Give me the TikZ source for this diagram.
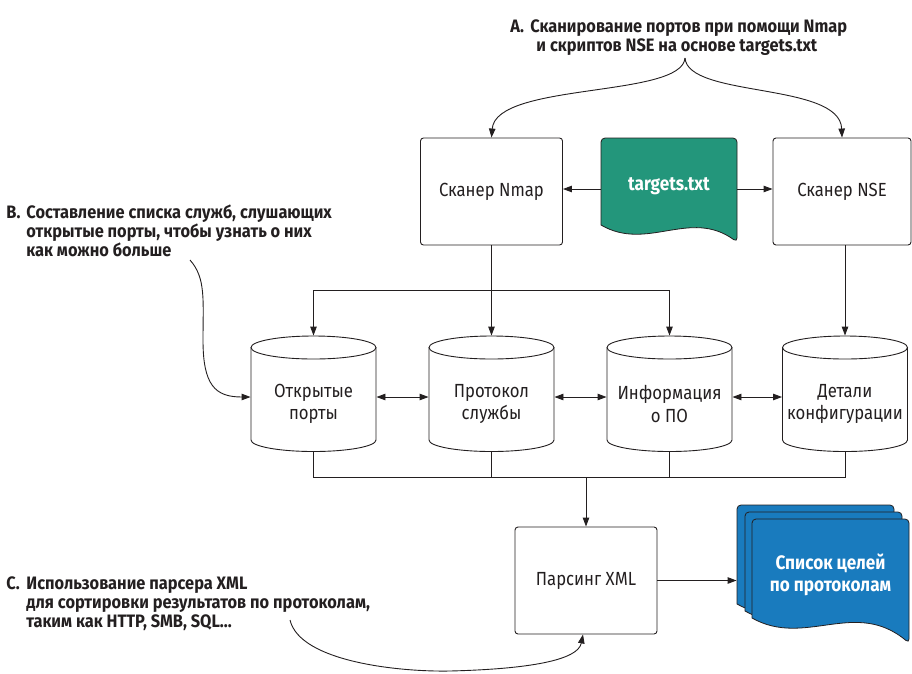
\documentclass[tikz,border=0pt]{standalone}
\usepackage{fontspec}
\setmainfont{Fira Sans}[FakeStretch=0.88]
\newfontfamily\annfont{Fira Sans}[FakeStretch=0.91]
\usetikzlibrary{arrows.meta}
\definecolor{teal1}{RGB}{35,150,123}
\definecolor{blue1}{RGB}{25,123,190}
\definecolor{ink}{RGB}{35,31,32}
\begin{document}
\begin{tikzpicture}[x=1pt,y=-1pt,line width=0.9pt,color=ink,
  tip/.tip={Triangle[length=9pt,width=6.5pt]},
  arr/.style={-tip},
  darr/.style={tip-tip},
  box/.style={draw=ink,rounded corners=3pt,minimum width=142pt,minimum height=107pt,inner sep=0pt,font=\fontsize{19}{21}\selectfont},
  cylnode/.style={minimum width=125pt,minimum height=115.5pt,inner sep=0pt},
  cyltext/.style={align=center,inner sep=0pt,font=\fontsize{19}{22.5}\selectfont},
  ann/.style={anchor=base west,inner sep=0pt,font=\annfont\bfseries\fontsize{18}{19}\selectfont},
  docnode/.style={inner sep=0pt,align=center,text=white,font=\bfseries\fontsize{19.5}{22}\selectfont},
  listtext/.style={docnode,font=\bfseries\fontsize{19.5}{22.5}\selectfont},
  docshape/.style={draw=ink,line width=0.8pt}
]
\useasboundingbox (0,0) rectangle (912,673);

% ---------- boxes ----------
\node[box] (nmap) at (491.5,191.5) {Сканер Nmap};
\node[box,minimum width=138pt] (nse) at (842,191.5) {Сканер NSE};
\node[box] (parse) at (586,580.5) {Парсинг XML};

% ---------- targets.txt document ----------
\draw[docshape,fill=teal1] (601,225) [rounded corners=4pt] -- (601,138) -- (737,138) -- (737,242) [sharp corners]
  .. controls (690,208) and (647,252) .. (601,225) -- cycle;
\node[docnode,minimum width=136pt,minimum height=102pt] (tg) at (669,189) {};
\node[docnode] (tgt) at (669,186) {targets.txt};

% ---------- stacked documents ----------
\foreach \L/\T in {737/505,745/512,752/519}{
  \draw[docshape,fill=blue1] (\L,\T+99) [rounded corners=4pt] -- (\L,\T) -- (\L+157,\T) -- (\L+157,\T+124) [sharp corners]
    .. controls (\L+103,\T+79) and (\L+53,\T+129) .. (\L,\T+99) -- cycle;
}
\node[minimum width=156pt,minimum height=99pt,inner sep=0pt] (docb) at (815,554.5) {};
\node[listtext] (doct) at (830.5,575) {Список целей\\по протоколам};

% ---------- cylinders ----------
\foreach \n/\x/\t in {open/313.5/{Открытые\\порты},proto/491.5/{Протокол\\службы},info/669.5/{Информация\\о ПО},conf/845/{Детали\\конфигурации}}{
  \draw (\x-62.5,347.5) -- (\x-62.5,440) arc[start angle=180,end angle=0,x radius=62.5,y radius=11.5] -- (\x+62.5,347.5);
  \draw (\x,347.5) ellipse[x radius=62.5,y radius=11.5];
  \node[cylnode] (\n) at (\x,393.75) {};
  \node[cyltext] (\n t) at (\x,404) {\t};
}

% ---------- connectors ----------
\coordinate (yarr) at (0,397);
\coordinate (dist) at (0,290);
\coordinate (coll) at (0,477);

\draw[arr] (tg.west) -- (nmap.east |- tg.west);
\draw[arr] (tg.east) -- (nse.west |- tg.east);

\draw (nmap.south) -- (nmap.south |- dist);
\draw (open.north |- dist) -- (info.north |- dist);
\draw[arr] (open.north |- dist) -- (open.north);
\draw[arr] (nmap.south |- dist) -- (proto.north);
\draw[arr] (info.north |- dist) -- (info.north);
\draw[arr] (conf.north |- nse.south) -- (conf.north);

\draw[darr] (open.east |- yarr) -- (proto.west |- yarr);
\draw[darr] (proto.east |- yarr) -- (info.west |- yarr);
\draw[darr] (info.east |- yarr) -- (conf.west |- yarr);

\draw (open.south) -- (open.south |- coll) -- (conf.south |- coll) -- (conf.south);
\draw (proto.south) -- (proto.south |- coll);
\draw (info.south) -- (info.south |- coll);
\draw[arr] (parse.north |- coll) -- (parse.north);

\draw[arr] (parse.east) -- (docb.west |- parse.east);

% ---------- annotations ----------
\node[ann] (aA) at (510,32) {A.};
\node[ann] (aA1) at (530,32) {Сканирование портов при помощи Nmap};
\node[ann] (aA2) at (536,51) {и скриптов NSE на основе targets.txt};
\coordinate (tipA) at (685,58);
\draw[arr] (tipA) .. controls (682,98) and (496,82) .. (nmap.north);
\draw[arr] (tipA) .. controls (688,98) and (840,82) .. (nse.north);

\node[ann] (aB) at (6,218) {B.};
\node[ann] (aB1) at (26,218) {Составление списка служб, слушающих};
\node[ann] (aB2) at (26,237) {открытые порты, чтобы узнать о них};
\node[ann] (aB3) at (26,256) {как можно больше};
\coordinate (startB) at (190,260);
\draw[arr] (startB) .. controls (206,278) and (203,300) .. (203,340) .. controls (203,385) and (215,397) .. (open.west |- yarr);

\node[ann] (aC) at (6,589) {C.};
\node[ann] (aC1) at (26,589) {Использование парсера XML};
\node[ann] (aC2) at (26,608) {для сортировки результатов по протоколам,};
\node[ann] (aC3) at (26,627) {таким как HTTP, SMB, SQL...};
\coordinate (startC) at (290,620);
\draw[arr] (startC) .. controls (300,662) and (400,672) .. (450,671) .. controls (530,669) and (578,660) .. ([xshift=-3pt]parse.south);
\end{tikzpicture}
\end{document}
